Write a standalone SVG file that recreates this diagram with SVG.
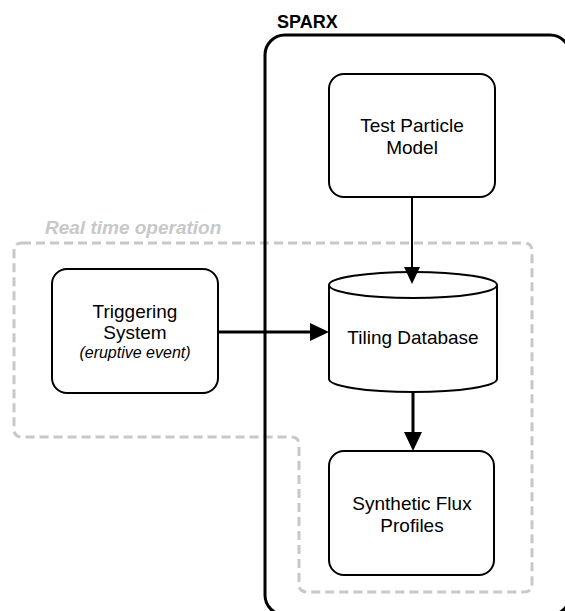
<svg xmlns="http://www.w3.org/2000/svg" width="565" height="611" viewBox="0 0 565 611">
<style>
.box{fill:#fff;stroke:#000;stroke-width:2}
.t{font-family:"Liberation Sans",Arial,sans-serif;font-size:19px;fill:#000;text-anchor:middle}
.it{font-family:"Liberation Sans",Arial,sans-serif;font-size:16px;font-style:italic;fill:#000;text-anchor:middle}
.edge{fill:none;stroke:#000}
</style>
<rect width="565" height="611" fill="#fff"/>
<g id="realtime">
<path d="M22,243 H524 Q532,243 532,251 V584 Q532,592 524,592 H307 Q299,592 299,584 V445 Q299,437 291,437 H22 Q14,437 14,429 V251 Q14,243 22,243 Z" fill="none" stroke="#c8c8c8" stroke-width="3" stroke-dasharray="9 5"/>
<text x="45" y="234" font-family="'Liberation Sans',Arial,sans-serif" font-size="19" font-weight="bold" font-style="italic" fill="#c8c8c8">Real time operation</text>
</g>
<g id="sparx">
<rect x="265" y="35" width="305" height="580" rx="20" fill="none" stroke="#000" stroke-width="3"/>
<text x="277" y="28" font-family="'Liberation Sans',Arial,sans-serif" font-size="18" font-weight="bold" fill="#000">SPARX</text>
</g>
<g id="test-particle">
<rect class="box" x="329" y="74" width="166" height="123" rx="15"/>
<text class="t" x="412" y="132">Test Particle</text>
<text class="t" x="412" y="154">Model</text>
</g>
<g id="triggering">
<rect class="box" x="52" y="269" width="166" height="124" rx="15"/>
<text class="t" x="135" y="318">Triggering</text>
<text class="t" x="135" y="339">System</text>
<text class="it" x="135" y="358">(eruptive event)</text>
</g>
<g id="tiling-db">
<path class="box" d="M329,285 A84,13 0 0 1 497,285 V379 A84,13 0 0 1 329,379 Z"/>
<path d="M329,285 A84,13 0 0 0 497,285" fill="none" stroke="#000" stroke-width="2"/>
<text class="t" x="413" y="344">Tiling Database</text>
</g>
<g id="synthetic-flux">
<rect class="box" x="329" y="451" width="165" height="124" rx="15"/>
<text class="t" x="412" y="510">Synthetic Flux</text>
<text class="t" x="412" y="532">Profiles</text>
</g>
<g id="connectors">
<line class="edge" x1="412" y1="197" x2="412" y2="270" stroke-width="2"/>
<path d="M404,267 L420,267 L412,284 Z" fill="#000"/>
<line class="edge" x1="218" y1="332" x2="312" y2="332" stroke-width="3"/>
<path d="M310,323 L329,332 L310,341 Z" fill="#000"/>
<line class="edge" x1="413" y1="392" x2="413" y2="434" stroke-width="3"/>
<path d="M404,432 L422,432 L413,451 Z" fill="#000"/>
</g>
</svg>
